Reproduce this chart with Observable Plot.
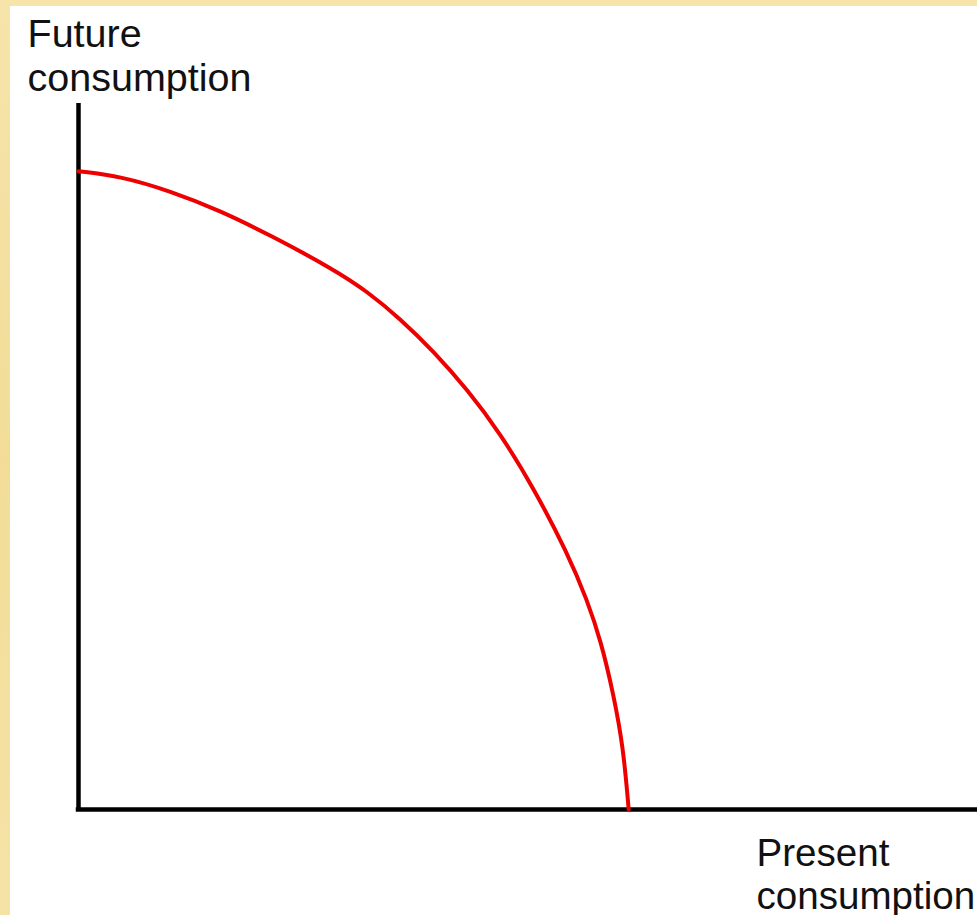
<!DOCTYPE html>
<html>
<head>
<meta charset="utf-8">
<script src="https://cdn.jsdelivr.net/npm/d3@7"></script>
<script src="https://cdn.jsdelivr.net/npm/@observablehq/plot@0.6"></script>
<style>
  html, body { margin: 0; padding: 0; overflow: hidden; width: 977px; height: 915px; }
  body { background: linear-gradient(180deg, #f6e4aa 0%, #f2dc98 50%, #f5e3a6 100%); position: relative; }
  #chart { position: absolute; left: 10px; top: 6px; }
  #chart svg { background: #ffffff; overflow: hidden; }
</style>
</head>
<body>
<div id="chart"></div>
<script>
// Production possibilities frontier (present vs future consumption)
const presentConsumption = [0, 4.7, 10.2, 15.8, 21.4, 28.4, 32.1, 35.8, 39.5, 43.3, 46.9, 50.6, 54.4, 56.6, 58.1, 59.5, 60.6, 61.2];
const futureConsumption  = [90.4, 89.7, 87.6, 84.8, 81.3, 76.5, 73.4, 69.5, 64.9, 59.4, 53.3, 45.6, 36.3, 29.6, 23.9, 16.4, 8.8, 0];
const yAxisLabel = "Future\nconsumption";
const xAxisLabel = "Present\nconsumption";
const axisSpanX = [-0.25, 100];
const axisSpanY = [0, 100];

const curve = presentConsumption.map((x, i) => ({x, y: futureConsumption[i]}));

const font = "'Liberation Sans', Arial, Helvetica, sans-serif";

const chart = Plot.plot({
  width: 967,
  height: 909,
  marginLeft: 68,
  marginRight: 0,
  marginTop: 97,
  marginBottom: 106,
  x: {domain: [0, 100], axis: null},
  y: {domain: [0, 100], axis: null},
  style: {fontFamily: font, background: "#ffffff"},
  marks: [
    Plot.ruleX([0], {y1: axisSpanY[0], y2: axisSpanY[1], stroke: "#000", strokeWidth: 4.5}),
    Plot.ruleY([0], {x1: axisSpanX[0], x2: axisSpanX[1], stroke: "#000", strokeWidth: 4.5}),
    Plot.line(curve, {x: "x", y: "y", curve: "basis", stroke: "#ee0000", strokeWidth: 4}),
    Plot.text([yAxisLabel], {
      frameAnchor: "top-left", textAnchor: "start", lineAnchor: "bottom",
      dx: -51, dy: -13, fontSize: 39.5, lineHeight: 1.1, fill: "#111"
    }),
    Plot.text([xAxisLabel], {
      frameAnchor: "bottom-left", textAnchor: "start", lineAnchor: "bottom",
      dx: 678, dy: 99, fontSize: 38.6, lineHeight: 1.09, fill: "#111"
    })
  ]
});
document.getElementById("chart").appendChild(chart);
</script>
</body>
</html>
